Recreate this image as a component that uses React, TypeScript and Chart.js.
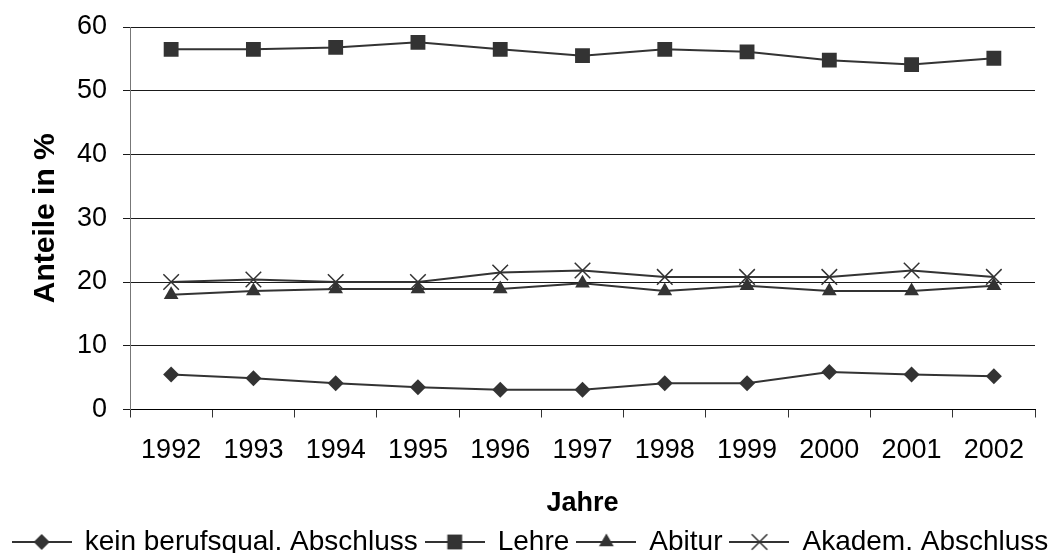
import React, { useEffect, useRef } from 'react';
import { Chart, registerables } from 'chart.js';

Chart.register(...registerables);

const years = ['1992', '1993', '1994', '1995', '1996', '1997', '1998', '1999', '2000', '2001', '2002'];
const keinAbschluss = [5.5, 4.9, 4.1, 3.5, 3.1, 3.1, 4.1, 4.1, 5.9, 5.5, 5.2];
const lehre = [56.5, 56.5, 56.8, 57.6, 56.5, 55.5, 56.5, 56.1, 54.8, 54.1, 55.1];
const abitur = [18.0, 18.6, 18.9, 18.9, 18.9, 19.8, 18.6, 19.4, 18.6, 18.6, 19.4];
const akademAbschluss = [20.0, 20.4, 20.0, 20.0, 21.5, 21.8, 20.8, 20.8, 20.8, 21.8, 20.8];
const seriesNames = ['kein berufsqual. Abschluss', 'Lehre', 'Abitur', 'Akadem. Abschluss'];
const yMin = 0;
const yMax = 60;
const yStep = 10;
const yTitle = 'Anteile in %';
const xTitle = 'Jahre';

const LINE = '#333333';
const FONT = "'Liberation Sans', Arial, Helvetica, sans-serif";

const markerStyles = ['rectRot', 'rect', 'triangle', 'crossRot'];
const markerRadii = [8, 10.5, 8.5, 11];

function drawMarker(ctx: CanvasRenderingContext2D, style: string, x: number, y: number, r: number) {
  ctx.fillStyle = LINE;
  ctx.strokeStyle = LINE;
  ctx.beginPath();
  if (style === 'rectRot') {
    ctx.moveTo(x, y - r);
    ctx.lineTo(x + r, y);
    ctx.lineTo(x, y + r);
    ctx.lineTo(x - r, y);
    ctx.closePath();
    ctx.fill();
  } else if (style === 'rect') {
    const s = Math.SQRT1_2 * r;
    ctx.rect(x - s, y - s, 2 * s, 2 * s);
    ctx.fill();
  } else if (style === 'triangle') {
    ctx.moveTo(x, y - r);
    ctx.lineTo(x + 0.866 * r, y + 0.5 * r);
    ctx.lineTo(x - 0.866 * r, y + 0.5 * r);
    ctx.closePath();
    ctx.fill();
  } else {
    const o = Math.SQRT1_2 * r;
    ctx.lineWidth = 1.5;
    ctx.moveTo(x - o, y - o);
    ctx.lineTo(x + o, y + o);
    ctx.moveTo(x - o, y + o);
    ctx.lineTo(x + o, y - o);
    ctx.stroke();
  }
}

function legendImage(style: string, r: number) {
  const c = document.createElement('canvas');
  c.width = 60;
  c.height = 26;
  const ctx = c.getContext('2d') as CanvasRenderingContext2D;
  ctx.strokeStyle = LINE;
  ctx.lineWidth = 2;
  ctx.beginPath();
  ctx.moveTo(0, 13);
  ctx.lineTo(60, 13);
  ctx.stroke();
  drawMarker(ctx, style, 30, 13, r);
  return c;
}

export default function App() {
  const ref = useRef<HTMLCanvasElement | null>(null);

  useEffect(() => {
    if (!ref.current) return;
    const seriesData = [keinAbschluss, lehre, abitur, akademAbschluss];
    const images = markerStyles.map((s, i) => legendImage(s, markerRadii[i]));

    const chart = new Chart(ref.current, {
      type: 'line',
      data: {
        labels: years,
        datasets: seriesData.map((d, i) => ({
          label: seriesNames[i],
          data: d,
          borderColor: LINE,
          backgroundColor: LINE,
          borderWidth: 2,
          pointStyle: markerStyles[i] as any,
          pointRadius: markerRadii[i],
          pointHoverRadius: markerRadii[i],
          pointBackgroundColor: LINE,
          pointBorderColor: LINE,
          pointBorderWidth: markerStyles[i] === 'crossRot' ? 1.5 : 0,
          tension: 0,
          fill: false,
          yAxisID: 'y',
        })),
      },
      options: {
        responsive: false,
        animation: false,
        layout: { padding: { top: 27, right: 0, bottom: -13, left: 0 } },
        plugins: {
          tooltip: { enabled: false },
          legend: {
            position: 'bottom',
            labels: {
              usePointStyle: true,
              pointStyleWidth: 58,
              padding: 8,
              color: '#000',
              font: { family: FONT, size: 28 },
              generateLabels: () =>
                seriesNames.map((n, i) => ({
                  text: n,
                  pointStyle: images[i] as any,
                  fillStyle: LINE,
                  strokeStyle: LINE,
                  lineWidth: 0,
                  hidden: false,
                  datasetIndex: i,
                })),
            },
          },
        },
        scales: {
          x: {
            offset: true,
            grid: {
              offset: true,
              drawOnChartArea: false,
              drawTicks: true,
              tickLength: 8,
              color: '#333',
            },
            border: { display: true, color: '#000', width: 1 },
            ticks: {
              color: '#000',
              padding: 17,
              font: { family: FONT, size: 27 },
              maxRotation: 0,
              autoSkip: false,
            },
            title: {
              display: true,
              text: xTitle,
              color: '#000',
              font: { family: FONT, size: 27, weight: 'bold' },
              padding: { top: 0, bottom: 0 },
            },
            afterFit: (s: any) => {
              s.height = 110.5;
            },
          },
          y: {
            min: yMin,
            max: yMax,
            ticks: {
              stepSize: yStep,
              color: '#000',
              padding: 16,
              font: { family: FONT, size: 27 },
            },
            grid: {
              color: '#1a1a1a',
              lineWidth: 1,
              drawTicks: true,
              tickLength: 7,
            },
            border: { display: true, color: '#777', width: 1 },
            title: {
              display: true,
              text: yTitle,
              color: '#000',
              font: { family: FONT, size: 30, weight: 'bold' },
              padding: { top: 27.5, bottom: 0 },
            },
            afterFit: (s: any) => {
              s.width = 130;
              s.paddingTop = 10;
              s.paddingBottom = 10;
            },
          },
          yRight: {
            position: 'right',
            min: yMin,
            max: yMax,
            grid: { display: false, drawTicks: false },
            border: { display: false },
            ticks: { display: false },
            afterFit: (s: any) => {
              s.width = 26;
              s.paddingTop = 0;
              s.paddingBottom = 0;
            },
          },
        },
      },
    });
    return () => chart.destroy();
  }, []);

  return (
    <div style={{ position: 'absolute', left: 0, top: 0, width: 1061, height: 553, background: '#fff' }}>
      <canvas ref={ref} width={1061} height={553} />
    </div>
  );
}
